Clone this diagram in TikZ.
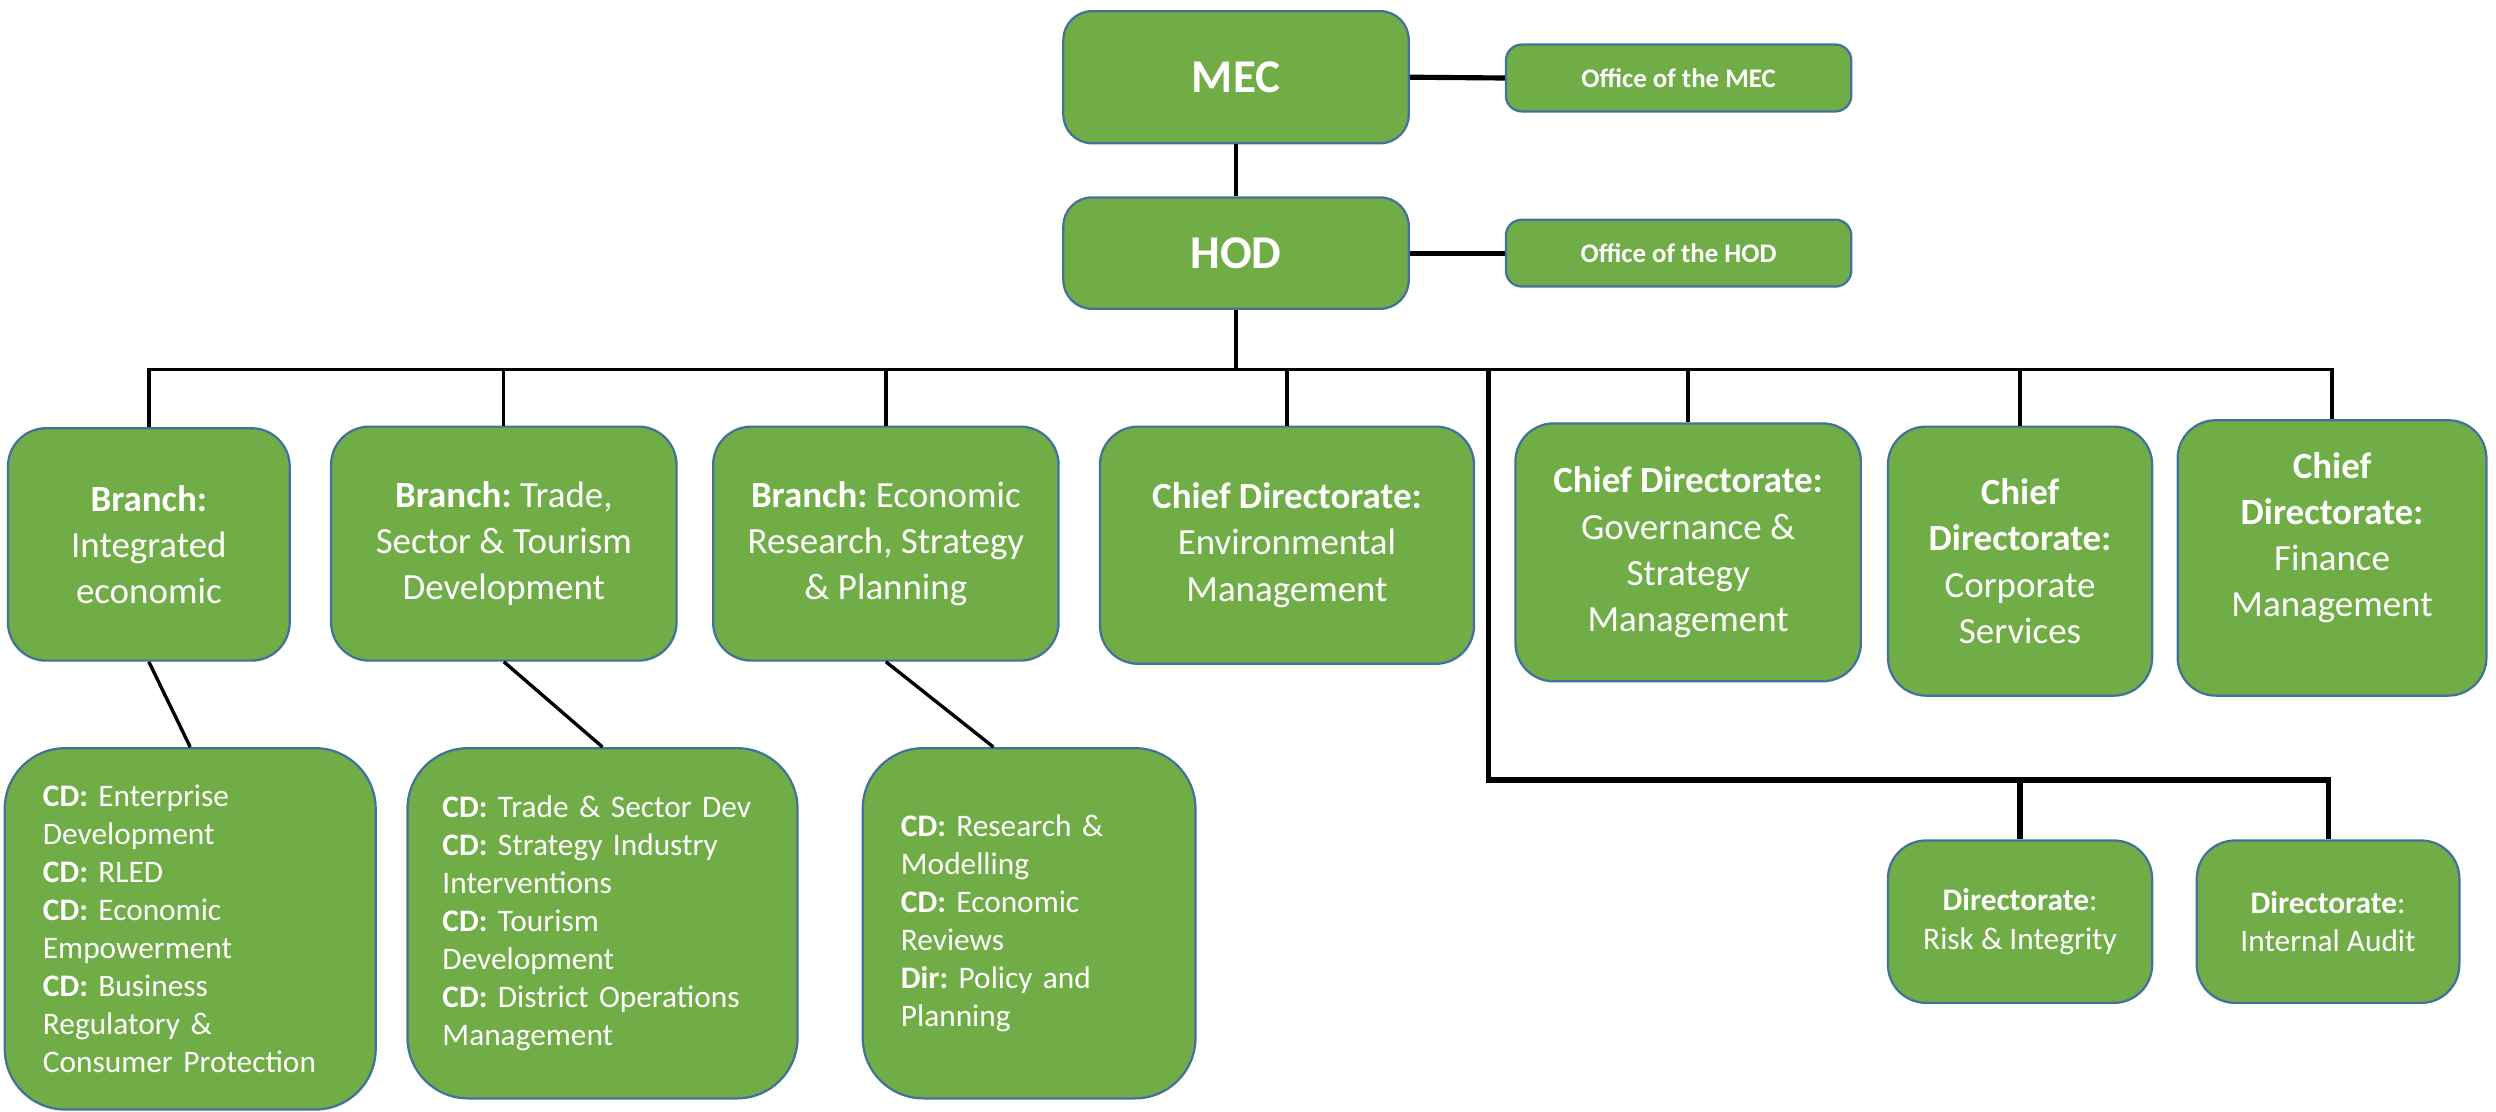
\documentclass[tikz,border=0pt]{standalone}
\usepackage{fontspec}
\setmainfont{Carlito}
\frenchspacing
\definecolor{boxgreen}{HTML}{70AD47}
\definecolor{boxline}{HTML}{41719C}
\tikzset{
  box/.style={rectangle, draw=boxline, fill=boxgreen, line width=1pt, text=white, inner sep=0pt},
  boxsize/.style 2 args={minimum width=#1*0.025cm, minimum height=#2*0.025cm},
  topbox/.style={box, rounded corners=0.45cm, font=\bfseries\fontsize{21}{25}\selectfont},
  officebox/.style={box, rounded corners=0.25cm, font=\bfseries\fontsize{12}{14}\selectfont},
  upbox/.style={box, rounded corners=0.6cm, align=center, font=\fontsize{16.5}{20.6}\selectfont},
  lowbox/.style={box, rounded corners=0.95cm, align=left, font=\fontsize{14}{17}\selectfont},
  dirbox/.style={box, rounded corners=0.6cm, align=center, font=\fontsize{14}{17}\selectfont},
  link/.style={line width=1.5pt},
  heavy link/.style={line width=2.3pt}
}
\begin{document}
\begin{tikzpicture}[x=0.025cm, y=-0.025cm]
  \useasboundingbox (0,0) rectangle (1568,698);

  % top of the chart
  \node[topbox, boxsize={217}{83}] (mec) at (776.5,48.5) {MEC};
  \node[topbox, boxsize={217}{70}] (hod) at (776.5,159) {HOD};
  \node[officebox, boxsize={217}{42}] (omec) at (1054.5,49) {Office of the MEC};
  \node[officebox, boxsize={217}{42}] (ohod) at (1054.5,159) {Office of the HOD};

  \draw[heavy link] (mec.east) -- (omec.west);
  \draw[heavy link] (hod.east) -- (ohod.west);
  \draw[link] (mec.south) -- (hod.north);

  % branches and chief directorates
  \node[upbox, boxsize={177}{146}] (b1) at (93.5,342) {\textbf{Branch:}\\Integrated\\economic};
  \node[upbox, boxsize={217}{147}] (b2) at (316.5,341.5) {\textbf{Branch:} Trade,\\Sector \& Tourism\\Development};
  \node[upbox, boxsize={217}{147}] (b3) at (556.5,341.5) {\textbf{Branch:} Economic\\Research, Strategy\\\& Planning};
  \node[upbox, boxsize={235}{149}] (env) at (808.5,342.5) {\textbf{Chief Directorate:}\\Environmental\\Management};
  \node[upbox, boxsize={217}{162}] (gov) at (1060.5,347) {\textbf{Chief Directorate:}\\Governance \&\\Strategy\\Management};
  \node[upbox, boxsize={166}{169}] (corp) at (1269,352.5) {\textbf{Chief}\\\textbf{Directorate:}\\Corporate\\Services};
  \node[upbox, boxsize={194}{173},
    label={[font=\fontsize{16.5}{20.6}\selectfont, text=white, align=center, yshift=0.32cm]center:{\textbf{Chief}\\\textbf{Directorate:}\\Finance\\Management}}]
    (fin) at (1465,350.5) {};

  \coordinate (bus) at (0,232);
  \draw[link] (hod.south) -- (hod.south |- bus);
  \foreach \n in {b1,b2,b3,env,gov,corp,fin}
    \draw[link] (\n.north) |- (hod.south |- bus);

  % chief directorates under the branches
  \node[lowbox, boxsize={233}{227}, text width=4.625cm] (l1) at (119.5,583.5)
    {\textbf{CD:} Enterprise\\Development\\\textbf{CD:} RLED\\\textbf{CD:} Economic\\Empowerment\\\textbf{CD:} Business\\Regulatory \&\\Consumer Protection};
  \node[lowbox, boxsize={245}{220}, text width=5.025cm] (l2) at (378.5,580)
    {\textbf{CD:} Trade \& Sector Dev\\\textbf{CD:} Strategy Industry\\Interventions\\\textbf{CD:} Tourism\\Development\\\textbf{CD:} District Operations\\Management};
  \node[lowbox, boxsize={209}{220}, text width=4.025cm] (l3) at (646.5,580)
    {\textbf{CD:} Research \&\\Modelling\\\textbf{CD:} Economic\\Reviews\\\textbf{Dir:} Policy and\\Planning};

  \draw[link] (b1.south) -- (l1.north);
  \draw[link] (b2.south) -- (l2.north);
  \draw[link] (b3.south) -- ([xshift=-0.56cm]l3.north);

  % directorates
  \node[dirbox, boxsize={166}{102}] (risk) at (1269,579) {\textbf{Directorate}:\\Risk \& Integrity};
  \node[dirbox, boxsize={165}{102}] (audit) at (1462.5,579) {\textbf{Directorate}:\\Internal Audit};

  \coordinate (split) at (935,232);
  \coordinate (abus) at (935,490);
  \draw[heavy link] (split) -- (abus) -| (audit.north);
  \draw[heavy link] (risk.north) -- (risk.north |- abus);
\end{tikzpicture}
\end{document}
